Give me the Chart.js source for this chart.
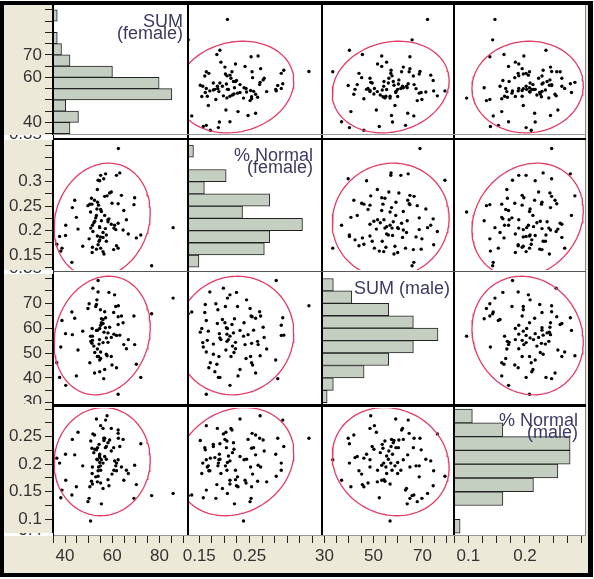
<!DOCTYPE html>
<html>
<head>
<meta charset="utf-8">
<script src="https://cdn.jsdelivr.net/npm/chart.js"></script>
<style>
  body { margin: 0; width: 594px; height: 579px; overflow: hidden; background: #fff; font-family: "Liberation Sans", Arial, sans-serif; }
  #frame { position: absolute; left: 0; top: 1px; width: 593px; height: 576px; box-sizing: border-box; border: 4px solid #000; border-right-width: 5px; background: #ece9d8; }
  #cells { position: absolute; left: 53px; top: 5px; width: 533px; height: 530px; background: #fff; }
  canvas { position: absolute; }
  .ln { position: absolute; background: #000; }
  .title { position: absolute; color: #3b3b63; font-size: 18px; line-height: 11.5px; text-align: right; white-space: nowrap; }
  .strip { position: absolute; left: 4px; width: 49px; background: #fff; overflow: hidden; }
  .strip span { position: absolute; right: 11px; font-size: 17px; line-height: 17px; color: #333; }
</style>
</head>
<body>
<div id="frame"></div>
<div id="cells"></div>
<script>
// one row per subject
const sumFemale = [62.6, 57.2, 55.1, 56.4, 61.8, 54.0, 54.7, 53.7, 58.9, 59.6,
  57.8, 63.9, 44.1, 50.5, 49.7, 51.4, 59.9, 62.5, 69.5, 69.2,
  43.1, 55.1, 55.4, 64.9, 53.3, 44.8, 56.8, 58.2, 66.0, 52.6,
  55.4, 59.6, 61.0, 62.5, 51.6, 50.9, 54.7, 57.1, 40.3, 45.5,
  64.6, 56.1, 53.7, 55.0, 56.1, 50.2, 37.7, 40.2, 54.4, 54.0,
  57.5, 70.2, 72.1, 85.8, 38.7, 51.6, 53.3, 55.1, 61.8, 62.5,
  60.6, 51.5, 56.1, 56.5, 42.9, 76.7, 54.7, 58.2, 60.7, 51.8,
  53.0, 57.5, 52.5, 53.8, 51.2, 54.2, 56.8, 50.8, 53.5, 52.2,
  54.6, 58.6, 61.5, 63.2, 66.8, 36.5, 38.2, 47.5];
const pctNormalFemale = [0.368, 0.316, 0.313, 0.306, 0.313, 0.303, 0.302, 0.284, 0.277, 0.279,
  0.271, 0.272, 0.262, 0.254, 0.251, 0.254, 0.256, 0.255, 0.267, 0.253,
  0.247, 0.243, 0.239, 0.241, 0.231, 0.227, 0.231, 0.222, 0.222, 0.219,
  0.220, 0.213, 0.211, 0.215, 0.211, 0.205, 0.206, 0.204, 0.211, 0.203,
  0.201, 0.196, 0.189, 0.187, 0.186, 0.183, 0.188, 0.190, 0.178, 0.171,
  0.178, 0.185, 0.191, 0.206, 0.164, 0.166, 0.162, 0.164, 0.169, 0.164,
  0.161, 0.155, 0.157, 0.152, 0.135, 0.128, 0.181, 0.218, 0.205, 0.198,
  0.226, 0.191, 0.262, 0.258, 0.266, 0.252, 0.270, 0.238, 0.244, 0.216,
  0.208, 0.224, 0.202, 0.318, 0.193, 0.172, 0.158, 0.168];
const sumMale = [69.0, 64.2, 61.2, 39.7, 57.1, 79.2, 47.2, 51.6, 60.4, 56.3,
  48.9, 64.9, 64.0, 46.1, 67.9, 53.9, 45.2, 64.6, 53.4, 64.9,
  57.4, 47.8, 62.2, 53.4, 59.1, 40.8, 43.4, 54.3, 51.7, 50.2,
  63.8, 48.6, 73.4, 61.5, 56.8, 54.7, 59.9, 60.2, 37.0, 51.2,
  62.2, 63.5, 48.6, 67.4, 61.9, 69.8, 40.2, 57.8, 53.6, 74.6,
  49.5, 45.5, 40.2, 72.1, 63.1, 55.1, 69.5, 50.4, 44.1, 33.4,
  66.3, 59.9, 54.2, 58.4, 66.5, 65.8, 42.5, 58.1, 57.6, 76.1,
  68.7, 56.1, 42.0, 59.2, 54.7, 48.6, 66.6, 56.8, 71.4, 52.8,
  55.4, 74.4, 68.7, 57.2, 55.4, 46.1, 52.4, 58.8];
const pctNormalMale = [0.247, 0.280, 0.189, 0.247, 0.202, 0.178, 0.218, 0.168, 0.244, 0.224,
  0.288, 0.195, 0.217, 0.159, 0.132, 0.229, 0.182, 0.256, 0.198, 0.138,
  0.245, 0.166, 0.208, 0.171, 0.282, 0.159, 0.214, 0.172, 0.189, 0.227,
  0.128, 0.265, 0.206, 0.262, 0.164, 0.242, 0.203, 0.230, 0.171, 0.258,
  0.245, 0.156, 0.208, 0.197, 0.265, 0.138, 0.202, 0.218, 0.236, 0.188,
  0.232, 0.163, 0.237, 0.147, 0.153, 0.195, 0.226, 0.270, 0.188, 0.208,
  0.230, 0.183, 0.202, 0.243, 0.144, 0.143, 0.212, 0.239, 0.189, 0.255,
  0.177, 0.209, 0.253, 0.230, 0.169, 0.195, 0.247, 0.097, 0.209, 0.221,
  0.215, 0.161, 0.197, 0.232, 0.183, 0.211, 0.139, 0.197];

const titles = [['SUM', '(female)'], ['% Normal', '(female)'], ['SUM (male)'], ['% Normal', '(male)']];
const leftTickLabels = [[40, 60, 70], [0.15, 0.2, 0.25, 0.3], [30, 40, 50, 60, 70], [0.1, 0.15, 0.2, 0.25]];
const bottomTickLabels = [[40, 60, 80], [0.15, 0.25], [30, 50, 70], [0.1, 0.2]];
const binStarts = [35, 0.125, 30, 0.075];
const binWidths = [5, 0.025, 5, 0.025];
const binTotals = [11, 10, 10, 9];

// layout
const variables = [sumFemale, pctNormalFemale, sumMale, pctNormalMale];
const colEdges = [53, 188, 321, 454, 586];
const rowEdges = [[5, 135], [140, 270], [272, 404], [408, 535]];
const rowRanges = [[34.4, 92.2], [0.1193, 0.3853], [29.5, 82.6], [0.0715, 0.302]];
const colRanges = [[34.9, 92.1], [0.1276, 0.392], [28.6, 82.9], [0.0748, 0.3076]];
const histMax = [31.8, 24.4, 21.6, 21.6];
const AXIS_W = 49, AXIS_H = 37;
const ELLIPSE = '#e23b64';
const BAR = '#c4cfc2';
const titlePos = [[16, 183], [150, 313], [283, 450], [415, 578]];

Chart.defaults.font.family = '"Liberation Sans", Arial, sans-serif';
Chart.defaults.animation = false;
Chart.defaults.plugins.legend.display = false;
Chart.defaults.plugins.tooltip.enabled = false;

function fmt(v) {
  return String(Math.round(v * 1000) / 1000);
}

function axis(range, step, labels, position, shown) {
  const horizontal = position === 'bottom';
  return {
    type: 'linear',
    axis: horizontal ? 'x' : 'y',
    position: position,
    display: shown,
    min: range[0],
    max: range[1],
    offset: false,
    ticks: {
      stepSize: step, includeBounds: false, autoSkip: false, maxRotation: 0, minRotation: 0,
      padding: 3, color: '#333', font: {size: 17},
      callback: v => labels.some(l => Math.abs(l - v) < step / 10) ? fmt(v) : ''
    },
    grid: {display: shown, offset: false, drawOnChartArea: false, drawTicks: true, tickLength: 8, color: '#222'},
    border: {display: shown, color: horizontal ? '#999' : '#000', width: horizontal ? 1 : 2},
    afterFit: s => {
      if (!shown) return;
      if (horizontal) { s.height = AXIS_H; s.paddingLeft = 0; s.paddingRight = 0; }
      else { s.width = AXIS_W; s.paddingTop = 0; s.paddingBottom = 0; }
    }
  };
}

// 95% density ellipse from the sample mean and covariance
function densityEllipse(xs, ys) {
  const n = xs.length;
  const mx = xs.reduce((a, b) => a + b, 0) / n;
  const my = ys.reduce((a, b) => a + b, 0) / n;
  let sxx = 0, syy = 0, sxy = 0;
  for (let i = 0; i < n; i++) {
    const dx = xs[i] - mx, dy = ys[i] - my;
    sxx += dx * dx; syy += dy * dy; sxy += dx * dy;
  }
  sxx /= n - 1; syy /= n - 1; sxy /= n - 1;
  const k = Math.sqrt(5.991);
  const a = Math.sqrt(sxx), b = sxy / a, d = Math.sqrt(Math.max(syy - b * b, 0));
  const pts = [];
  for (let t = 0; t <= 120; t++) {
    const th = t / 120 * 2 * Math.PI;
    const u = Math.cos(th), v = Math.sin(th);
    pts.push({x: mx + k * a * u, y: my + k * (b * u + d * v)});
  }
  return pts;
}

function makeCanvas(left, top, w, h) {
  const cv = document.createElement('canvas');
  cv.width = w; cv.height = h;
  cv.style.left = left + 'px'; cv.style.top = top + 'px';
  cv.style.width = w + 'px'; cv.style.height = h + 'px';
  document.body.appendChild(cv);
  return cv;
}

for (let r = 0; r < 4; r++) {
  for (let c = 0; c < 4; c++) {
    const x0 = colEdges[c], x1 = colEdges[c + 1];
    const [y0, y1] = rowEdges[r];
    const hasY = c === 0, hasX = r === 3;
    // room on the left for the first bottom label of columns 2 and 3
    const extraLeft = (hasX && (c === 1 || c === 2)) ? 12 : 0;
    const left = x0 - (hasY ? AXIS_W : extraLeft);
    const cv = makeCanvas(left, y0, x1 - left, y1 - y0 + (hasX ? AXIS_H : 0));
    const yAxis = axis(rowRanges[r], binWidths[r], leftTickLabels[r], 'left', hasY);
    const xAxis = axis(colRanges[c], binWidths[c], bottomTickLabels[c], 'bottom', hasX);
    const layout = {autoPadding: false, padding: {left: extraLeft, top: 0, right: 0, bottom: 0}};

    if (r === c) {
      const bins = [];
      for (let k = 0; k < binTotals[r]; k++) {
        bins.push({x: 0, y: binStarts[r] + (k + 0.5) * binWidths[r]});
      }
      variables[r].forEach(v => {
        const k = Math.floor((v - binStarts[r]) / binWidths[r] + 1e-9);
        if (bins[k]) bins[k].x++;
      });
      const scales = {
        x: {type: 'linear', display: false, min: 0, max: histMax[r]},
        y: yAxis
      };
      if (hasX) scales.xd = xAxis;
      new Chart(cv, {
        type: 'bar',
        data: {datasets: [{
          data: bins, backgroundColor: BAR, borderColor: '#222', borderWidth: 1,
          borderSkipped: false, barPercentage: 1, categoryPercentage: 1
        }]},
        options: {indexAxis: 'y', responsive: false, layout, scales}
      });
    } else {
      const pts = variables[c].map((v, i) => ({x: v, y: variables[r][i]}));
      new Chart(cv, {
        type: 'scatter',
        data: {datasets: [
          {data: densityEllipse(variables[c], variables[r]), showLine: true, pointRadius: 0,
            borderColor: ELLIPSE, borderWidth: 1.3, fill: false},
          {data: pts, pointRadius: 1.7, backgroundColor: '#000', borderWidth: 0}
        ]},
        options: {responsive: false, layout, scales: {x: xAxis, y: yAxis}}
      });
    }
  }
}

// cell separators
[[52, 5, 2, 530, '#000'], [187, 5, 2, 530, '#000'], [321, 5, 2, 530, '#000'], [453, 5, 2, 530, '#000'],
 [585, 5, 1, 530, '#888'], [53, 134, 533, 1, '#999'], [53, 138, 533, 2, '#000'],
 [53, 271, 533, 1, '#555'], [53, 404, 533, 3, '#000']].forEach(([l, t, w, h, col]) => {
  const d = document.createElement('div');
  d.className = 'ln';
  Object.assign(d.style, {left: l + 'px', top: t + 'px', width: w + 'px', height: h + 'px', background: col});
  document.body.appendChild(d);
});

// clipped label fragments between the row axes
[[135, 5, -10, '0.35'], [270, 4, -11, '0.35'], [533, 3, -12, '0.4']].forEach(([t, h, off, txt]) => {
  const s = document.createElement('div');
  s.className = 'strip';
  s.style.top = t + 'px'; s.style.height = h + 'px';
  const sp = document.createElement('span');
  sp.style.top = off + 'px';
  sp.textContent = txt;
  s.appendChild(sp);
  document.body.appendChild(s);
});

// variable names on the diagonal
titles.forEach((lines, i) => {
  const d = document.createElement('div');
  d.className = 'title';
  d.style.top = titlePos[i][0] + 'px';
  d.style.right = (594 - titlePos[i][1]) + 'px';
  d.innerHTML = lines.join('<br>');
  document.body.appendChild(d);
});
</script>
</body>
</html>
